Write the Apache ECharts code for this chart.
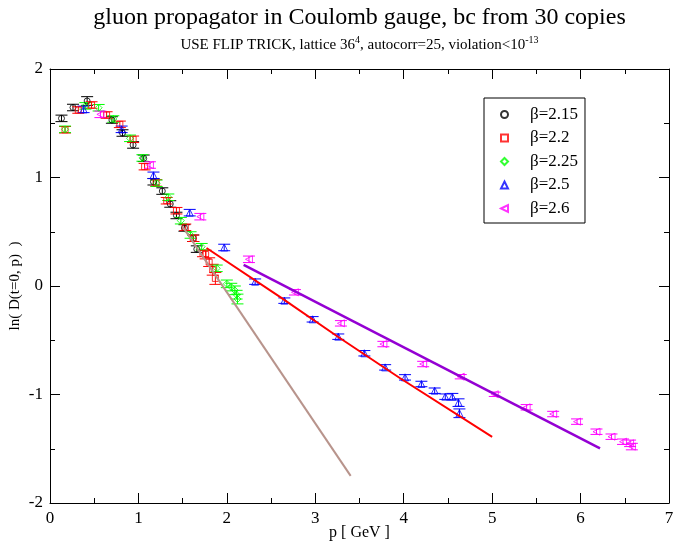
<!DOCTYPE html>
<html><head><meta charset="utf-8">
<script src="https://cdn.jsdelivr.net/npm/echarts@6/dist/echarts.min.js"></script>
<style>html,body{margin:0;padding:0;background:#fff}#c{width:677px;height:545px}</style>
</head><body><div id="c"></div>
<script>
// ---- data ----
const xTicks = [0, 1, 2, 3, 4, 5, 6, 7];
const yTicks = [-2, -1, 0, 1, 2];
const seriesNames = ['β=2.15', 'β=2.2', 'β=2.25', 'β=2.5', 'β=2.6'];

const p215 = [0.13, 0.26, 0.42, 0.70, 0.82, 0.94, 1.06, 1.17, 1.27, 1.36, 1.43, 1.52, 1.62, 1.66];
const v215 = [1.545, 1.645, 1.705, 1.53, 1.41, 1.30, 1.177, 0.961, 0.875, 0.756, 0.650, 0.535, 0.44, 0.34];
const e215 = [0.03, 0.03, 0.04, 0.03, 0.03, 0.03, 0.03, 0.03, 0.03, 0.03, 0.03, 0.03, 0.03, 0.03];

const p22 = [0.17, 0.32, 0.47, 0.64, 0.79, 0.94, 1.07, 1.20, 1.32, 1.43, 1.53, 1.62, 1.73, 1.76, 1.80, 1.84, 1.87];
const v22 = [1.44, 1.622, 1.668, 1.576, 1.49, 1.352, 1.10, 0.95, 0.786, 0.694, 0.541, 0.44, 0.30, 0.29, 0.22, 0.15, 0.07];
const e22 = [0.03, 0.03, 0.03, 0.03, 0.03, 0.03, 0.03, 0.03, 0.03, 0.03, 0.03, 0.03, 0.03, 0.04, 0.04, 0.05, 0.055];

const p225 = [0.17, 0.40, 0.55, 0.716, 0.905, 1.045, 1.206, 1.338, 1.48, 1.59, 1.715, 1.885, 2.00, 2.05, 2.09, 2.11, 2.12];
const v225 = [1.444, 1.66, 1.643, 1.539, 1.361, 1.18, 0.947, 0.818, 0.602, 0.47, 0.362, 0.163, 0.02, -0.01, -0.04, -0.08, -0.12];
const e225 = [0.03, 0.03, 0.03, 0.03, 0.03, 0.03, 0.03, 0.03, 0.03, 0.03, 0.03, 0.03, 0.035, 0.035, 0.04, 0.04, 0.045];

const p25 = [0.38, 0.81, 1.17, 1.58, 1.97, 2.32, 2.65, 2.97, 3.26, 3.555, 3.79, 4.015, 4.20, 4.35, 4.47, 4.55, 4.62, 4.63];
const v25 = [1.628, 1.444, 1.02, 0.676, 0.355, 0.04, -0.135, -0.307, -0.467, -0.62, -0.75, -0.842, -0.903, -0.965, -1.02, -1.02, -1.075, -1.173];
const e25 = [0.03, 0.03, 0.03, 0.03, 0.03, 0.025, 0.025, 0.025, 0.025, 0.025, 0.025, 0.025, 0.025, 0.025, 0.025, 0.03, 0.035, 0.04];

const p26 = [0.57, 1.13, 1.70, 2.25, 2.77, 3.29, 3.77, 4.22, 4.645, 5.03, 5.39, 5.69, 5.96, 6.18, 6.35, 6.48, 6.56, 6.58];
const v26 = [1.582, 1.115, 0.639, 0.246, -0.058, -0.344, -0.535, -0.719, -0.836, -0.998, -1.118, -1.18, -1.25, -1.343, -1.389, -1.435, -1.45, -1.48];
const e26 = [0.03, 0.03, 0.03, 0.03, 0.025, 0.025, 0.025, 0.025, 0.02, 0.02, 0.025, 0.025, 0.025, 0.025, 0.025, 0.025, 0.03, 0.03];

// fitted curves
const brownP = [1.50, 3.40];
const brownV = [0.547, -1.75];
const redP = [1.77, 2.60, 3.26, 3.96, 5.00];
const redV = [0.35, -0.10, -0.47, -0.85, -1.39];
const purpleP = [2.19, 6.22];
const purpleV = [0.194, -1.496];

// ---- chart ----
const SERIF = '"Liberation Serif", "DejaVu Serif", serif';
const colors = ['#000000', '#ff0000', '#00ff00', '#0000ff', '#ff00ff'];
const LEFT_TRI = 'path://M0,5L10,0L10,10Z';
const symbols = ['circle', 'rect', 'diamond', 'triangle', LEFT_TRI];
const symSize = [6, 6, 7, 7, 7];
const Ps = [p215, p22, p225, p25, p26];
const Vs = [v215, v22, v225, v25, v26];
const Es = [e215, e22, e225, e25, e26];

const zip = (a, b) => a.map((x, i) => [x, b[i]]);

const series = [];
Ps.forEach((P, k) => {
  const data = P.map((x, i) => [x, Vs[k][i], Es[k][i]]);
  series.push({
    name: 'eb' + k, type: 'custom', z: 3,
    data: data,
    encode: { x: 0, y: 1 },
    renderItem: function (params, api) {
      const x = api.value(0), y = api.value(1), e = api.value(2);
      const top = api.coord([x, y + e]);
      const bot = api.coord([x, y - e]);
      const hw = 6;
      const st = { stroke: colors[k], lineWidth: 1 };
      return {
        type: 'group',
        children: [
          { type: 'line', shape: { x1: top[0], y1: top[1], x2: bot[0], y2: bot[1] }, style: st },
          { type: 'line', shape: { x1: top[0] - hw, y1: top[1], x2: top[0] + hw, y2: top[1] }, style: st },
          { type: 'line', shape: { x1: bot[0] - hw, y1: bot[1], x2: bot[0] + hw, y2: bot[1] }, style: st }
        ]
      };
    },
    silent: true
  });
  series.push({
    name: seriesNames[k], type: 'scatter', z: 4,
    data: data.map(d => [d[0], d[1]]),
    symbol: symbols[k], symbolSize: symSize[k],
    itemStyle: { color: 'rgba(0,0,0,0)', borderColor: colors[k], borderWidth: 1 },
    silent: true
  });
});

const lineSer = (name, P, V, color, w) => ({
  name: name, type: 'line', z: 5, data: zip(P, V), showSymbol: false, symbol: 'none',
  lineStyle: { color: color, width: w }, silent: true
});
series.push(lineSer('fitBrown', brownP, brownV, '#b8948c', 2));
series.push(lineSer('fitRed', redP, redV, '#ff0000', 2));
series.push(lineSer('fitPurple', purpleP, purpleV, '#9400d3', 2.5));

const axisCommon = {
  min: 0, max: 7, interval: 1,
  axisLine: { show: true, onZero: false, lineStyle: { color: '#000', width: 1 } },
  axisTick: { show: true, inside: true, length: 10, lineStyle: { color: '#000' } },
  minorTick: { show: true, splitNumber: 2, length: 5, lineStyle: { color: '#000' } },
  splitLine: { show: false }, minorSplitLine: { show: false }
};

const option = {
  animation: false,
  backgroundColor: '#fff',
  grid: { left: 50, right: 8, top: 69, bottom: 42, containLabel: false, outerBoundsMode: 'none' },
  xAxis: [
    Object.assign({}, axisCommon, {
      type: 'value', position: 'bottom',
      name: 'p [ GeV ]', nameLocation: 'middle', nameGap: 22, nameMoveOverlap: false,
      nameTextStyle: { fontFamily: SERIF, fontSize: 16, color: '#000' },
      axisLabel: { fontFamily: SERIF, fontSize: 17, color: '#000', margin: 7,
        formatter: v => xTicks.includes(v) ? String(v) : '' }
    }),
    Object.assign({}, axisCommon, {
      type: 'value', position: 'top', axisLabel: { show: false }
    })
  ],
  yAxis: [
    Object.assign({}, axisCommon, {
      type: 'value', min: -2, max: 2, interval: 1, position: 'left',
      name: 'ln( D(t=0, p)  )', nameLocation: 'middle', nameGap: 27, nameRotate: 90, nameMoveOverlap: false,
      nameTextStyle: { fontFamily: SERIF, fontSize: 15, color: '#000' },
      axisLabel: { fontFamily: SERIF, fontSize: 17, color: '#000', margin: 7,
        formatter: v => yTicks.includes(v) ? String(v) : '' }
    }),
    Object.assign({}, axisCommon, {
      type: 'value', min: -2, max: 2, interval: 1, position: 'right', axisLabel: { show: false }
    })
  ],
  legend: {
    data: seriesNames,
    orient: 'vertical',
    left: 484, top: 98,
    padding: [8, 7, 6, 16],
    itemWidth: 7, itemHeight: 7, itemGap: 6.5,
    borderColor: '#000', borderWidth: 1, backgroundColor: '#fff',
    textStyle: { fontFamily: SERIF, fontSize: 17, color: '#000', padding: [0, 0, 0, 17] },
    selectedMode: false
  },
  graphic: [
    { type: 'text', x: 359.5, y: 18, z: 10,
      style: { text: 'gluon propagator in Coulomb gauge, bc from 30 copies', align: 'center', verticalAlign: 'middle',
        font: '24px ' + SERIF, fill: '#000' } },
    { type: 'text', x: 359.5, y: 45, z: 10,
      style: { text: 'USE FLIP TRICK, lattice 36{sup|4}, autocorr=25, violation<10{sup|-13}',
        align: 'center', verticalAlign: 'middle',
        fontFamily: SERIF, fontSize: 15, fill: '#000', lineHeight: 20,
        rich: { sup: { fontFamily: SERIF, fontSize: 10, verticalAlign: 'top', lineHeight: 20 } } } }
  ],
  series: series
};

const chart = echarts.init(document.getElementById('c'), null, { renderer: 'canvas' });
chart.setOption(option);
</script>
</body></html>
